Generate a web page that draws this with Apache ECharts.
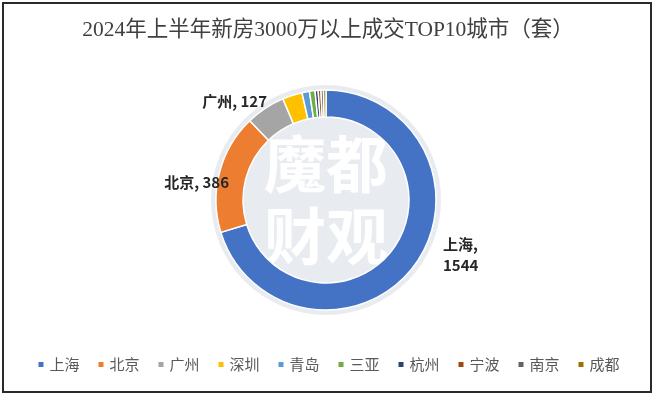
<!DOCTYPE html>
<html>
<head>
<meta charset="utf-8">
<script src="https://cdn.jsdelivr.net/npm/echarts@6/dist/echarts.min.js"></script>
<style>
html,body{margin:0;padding:0;background:#fff;}
#c{width:656px;height:396px;}
</style>
</head>
<body>
<div id="c"></div>
<script>
var cities = ['上海','北京','广州','深圳','青岛','三亚','杭州','宁波','南京','成都'];
var deals = [1544, 386, 127, 64, 24, 18, 10, 9, 8, 8];
var labeled = ['上海','北京','广州'];
var colors = ['#4472C4','#ED7D31','#A5A5A5','#FFC000','#5B9BD5','#70AD47','#264478','#9E480E','#636363','#997300'];

var labelSpots = {
  '上海': {x: 443, y: 255, align: 'left'},
  '北京': {x: 229, y: 182, align: 'right'},
  '广州': {x: 267, y: 101, align: 'right'}
};

var chart = echarts.init(document.getElementById('c'), null, {renderer: 'canvas'});
var data = cities.map(function (c, i) {
  return {name: c, value: deals[i], label: {show: labeled.indexOf(c) >= 0}};
});
var cx = 326, cy = 200;
chart.setOption({
  color: colors,
  animation: false,
  title: {
    text: '2024年上半年新房3000万以上成交TOP10城市（套）',
    left: 'center',
    top: 15,
    textStyle: {fontFamily: 'Liberation Serif, "Noto Sans CJK SC"', fontSize: 21.5, fontWeight: 'normal', color: '#404040'}
  },
  legend: {
    data: cities,
    bottom: 19,
    left: 'center',
    icon: 'rect',
    itemWidth: 7,
    itemHeight: 7,
    itemGap: 17,
    textStyle: {fontFamily: '"Noto Sans CJK SC"', fontSize: 15, color: '#595959'}
  },
  graphic: [
    {type: 'rect', shape: {x: 3, y: 3, width: 648, height: 389}, style: {fill: 'none', stroke: '#2a2a2a', lineWidth: 2}, z: 10},
    {type: 'circle', shape: {cx: cx, cy: cy, r: 115}, style: {fill: '#e8ebf0'}, z: 0},
    {type: 'text', x: cx, y: cy, style: {text: '魔都\n财观', fill: '#ffffff', fontSize: 62, fontWeight: 'bold', lineHeight: 72, align: 'center', verticalAlign: 'middle', fontFamily: '"Noto Sans CJK SC"'}, z: 1}
  ],
  series: [{
    type: 'pie',
    center: [cx, cy],
    radius: [83, 110],
    startAngle: 90,
    clockwise: true,
    z: 2,
    itemStyle: {borderColor: '#ffffff', borderWidth: 1.5},
    label: {
      position: 'outside',
      formatter: function (p) { return p.name === '上海' ? p.name + ',\n' + p.value : p.name + ', ' + p.value; },
      fontFamily: '"Noto Sans CJK SC"',
      fontSize: 15,
      fontWeight: 'bold',
      color: '#262626',
      lineHeight: 21
    },
    labelLine: {show: false},
    labelLayout: function (p) {
      var s = labelSpots[cities[p.dataIndex]];
      if (!s) return {};
      return {x: s.x, y: s.y, align: s.align, verticalAlign: 'middle'};
    },
    emphasis: {disabled: true},
    data: data
  }]
});
</script>
</body>
</html>
